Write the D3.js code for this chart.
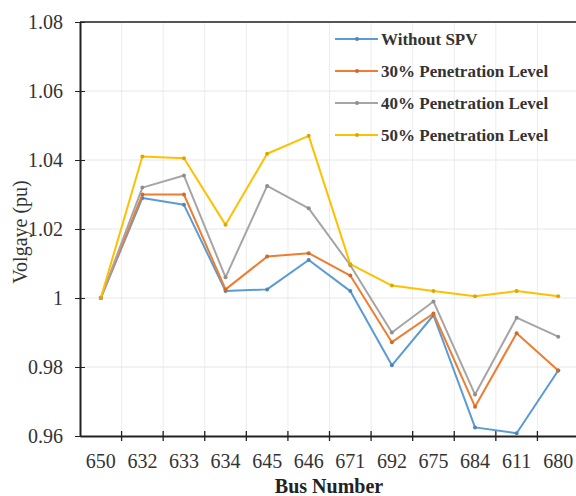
<!DOCTYPE html>
<html><head><meta charset="utf-8">
<script src="https://cdn.jsdelivr.net/npm/d3@7"></script>
</head><body style="margin:0"><svg id="c" width="576" height="496"></svg>
<script>
const categories = ["650","632","633","634","645","646","671","692","675","684","611","680"];
const withoutSPV = [1.000,1.029,1.027,1.002,1.0025,1.011,1.002,0.9805,0.995,0.9625,0.9608,0.979];
const pen30 = [1.000,1.030,1.030,1.0025,1.012,1.013,1.0065,0.9872,0.9955,0.9685,0.9898,0.979];
const pen40 = [1.000,1.032,1.0355,1.006,1.0325,1.026,1.0095,0.990,0.999,0.972,0.9943,0.9888];
const pen50 = [1.000,1.041,1.0405,1.0212,1.0418,1.047,1.0098,1.0036,1.002,1.0005,1.002,1.0005];
const seriesNames = ["Without SPV","30% Penetration Level","40% Penetration Level","50% Penetration Level"];
const colors = ["#5B9BD5","#ED7D31","#A5A5A5","#FFC000"];
const yTicks = [0.96,0.98,1,1.02,1.04,1.06,1.08];
const yTickLabels = ["0.96","0.98","1","1.02","1.04","1.06","1.08"];

const FONT = "Times New Roman";
function serif(sel, size, bold){
  sel.attr("font-family",FONT).attr("font-size",size)
     .style("font-family",`"${FONT}"`).style("font-size",size+"px");
  if(bold){ sel.attr("font-weight","bold").style("font-weight","bold"); }
  return sel;
}
const svg = d3.select("#c");
const L=80, R=579, T=22, B=436;
const x = d3.scaleBand().domain(categories).range([L,R]);
const y = d3.scaleLinear().domain([0.96,1.08]).range([B,T]);

// grid
const boundaries = d3.range(1,categories.length).map(i=>L + i*x.step());
svg.append("g").selectAll("line").data(boundaries).join("line")
  .attr("x1",d=>d).attr("x2",d=>d).attr("y1",T).attr("y2",B)
  .attr("stroke","#ececec").attr("stroke-width",1);
svg.append("g").selectAll("line").data(yTicks.slice(1,-1)).join("line")
  .attr("x1",L).attr("x2",R).attr("y1",d=>y(d)).attr("y2",d=>y(d))
  .attr("stroke","#e6e6e6").attr("stroke-width",1);

// top border
svg.append("line").attr("x1",L).attr("x2",R).attr("y1",T).attr("y2",T)
  .attr("stroke","#555").attr("stroke-width",2);

// y axis
const yAxis = d3.axisLeft(y).tickValues(yTicks).tickFormat((d,i)=>yTickLabels[i]).tickSize(5).tickSizeOuter(0);
const gy = svg.append("g").attr("transform",`translate(${L},0)`).call(yAxis);
gy.attr("font-family",FONT).attr("font-size",20);
gy.select(".domain").attr("stroke","#222").attr("stroke-width",2);
gy.selectAll(".tick line").attr("stroke","#222").attr("x2",5).attr("x1",-5);
serif(gy.selectAll(".tick text"),20).attr("x",-17).attr("fill","#333");

// x axis
const gx = svg.append("g").attr("transform",`translate(0,${B})`)
  .call(d3.axisBottom(x).tickSize(0).tickSizeOuter(0));
gx.attr("font-family",FONT).attr("font-size",20);
gx.select(".domain").attr("stroke","#222").attr("stroke-width",2);
serif(gx.selectAll(".tick text"),20).attr("dy",0).attr("y",32).attr("fill","#333");
svg.append("g").selectAll("line").data(boundaries).join("line")
  .attr("x1",d=>d).attr("x2",d=>d).attr("y1",B-5).attr("y2",B+5)
  .attr("stroke","#222").attr("stroke-width",1.3);

// series
const all=[withoutSPV,pen30,pen40,pen50];
const line = d3.line().x((d,i)=>x(categories[i])+x.bandwidth()/2).y(d=>y(d));
all.forEach((s,k)=>{
  svg.append("path").datum(s).attr("d",line).attr("fill","none")
    .attr("stroke",colors[k]).attr("stroke-width",2).attr("stroke-linejoin","round");
  svg.append("g").selectAll("circle").data(s).join("circle")
    .attr("cx",(d,i)=>x(categories[i])+x.bandwidth()/2).attr("cy",d=>y(d)).attr("r",2)
    .attr("fill",d3.color(colors[k]).darker(0.4));
});

// legend
seriesNames.forEach((n,k)=>{
  const yy = 39 + k*32;
  svg.append("line").attr("x1",335).attr("x2",378).attr("y1",yy).attr("y2",yy)
    .attr("stroke",colors[k]).attr("stroke-width",2);
  svg.append("circle").attr("cx",357).attr("cy",yy).attr("r",2).attr("fill",d3.color(colors[k]).darker(0.4));
  serif(svg.append("text"),17,true).attr("x",381).attr("y",yy+6).attr("fill","#333").text(n);
});

// axis titles
serif(svg.append("text"),20,true).attr("x",329).attr("y",493).attr("text-anchor","middle")
  .attr("fill","#222").text("Bus Number");
serif(svg.append("text"),20,false).attr("transform",`translate(27,232) rotate(-90)`).attr("text-anchor","middle")
  .attr("fill","#333").text("Volgaye (pu)");
</script></body></html>
